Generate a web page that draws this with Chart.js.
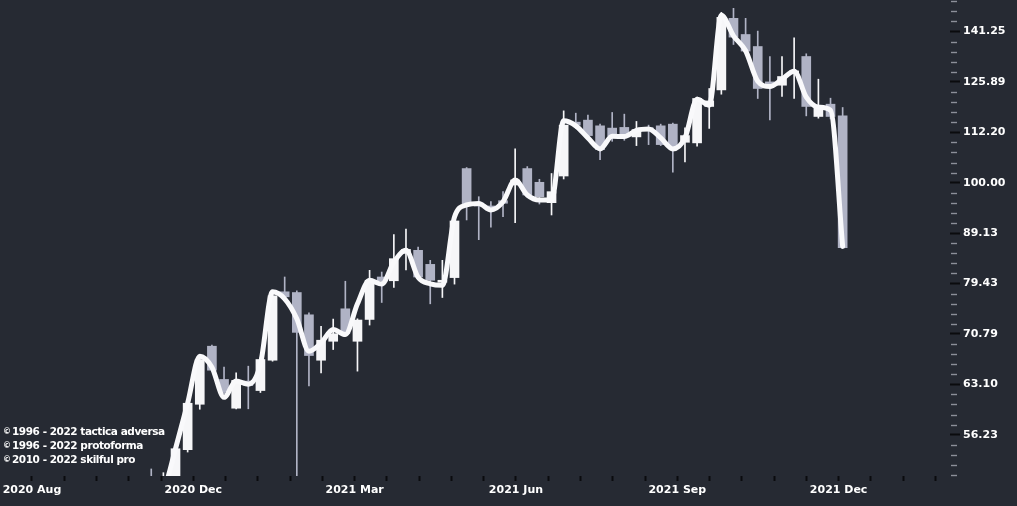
<!DOCTYPE html>
<html>
<head>
<meta charset="utf-8">
<script src="https://cdn.jsdelivr.net/npm/chart.js@4.4.0/dist/chart.umd.min.js"></script>
<style>
  html, body { margin: 0; padding: 0; background: #262a33; }
  #wrap { position: relative; width: 1017px; height: 506px; overflow: hidden; }
  #c { display: block; width: 1017px; height: 506px; }
  #credits { position: absolute; left: 3px; top: 425px; color: #ffffff; font-family: "DejaVu Sans"; font-weight: bold;
             font-size: 10.5px; line-height: 12px; letter-spacing: -0.45px; white-space: nowrap; }
  #credits .c { font-size: 8px; letter-spacing: 0; margin-right: 1px; position: relative; top: -1px; }
</style>
</head>
<body>
<div id="wrap">
  <canvas id="c" width="1017" height="506"></canvas>
  <div id="credits">
    <div><span class="c">©</span>1996 - 2022 tactica adversa</div>
    <div><span class="c">©</span>1996 - 2022 protoforma</div>
    <div><span class="c">©</span>2010 - 2022 skilful pro</div>
  </div>
</div>
<script>
// ---- data (weekly candles) ----
const weekNo = [-2, -1, 0, 1, 2, 3, 4, 5, 6, 7, 8, 9, 10, 11, 12, 13, 14, 15, 16, 17, 18, 19,
  20, 21, 22, 23, 24, 25, 26, 27, 28, 29, 30, 31, 32, 33, 34, 35, 36, 37, 38, 39,
  40, 41, 42, 43, 44, 45, 46, 47, 48, 49, 50, 51, 52, 53, 54, 55];

const openP = [48, 47,
  49.5, 54.34, 60.28, 68.83, 63.80, 59.74, 63.56, 62.20, 66.66, 77.94,
  77.81, 73.95, 66.66, 69.61, 74.97, 69.61, 73.17, 80.62, 79.93, 85.09,
  85.68, 82.98, 79.66, 80.51, 103.28, 95.47, 94.82, 95.97, 99.48, 103.28,
  100.09, 95.54, 101.54, 114.83, 115.36, 113.87, 113.28, 113.46, 111.03, 113.41,
  113.87, 114.31, 109.67, 109.52, 119.02, 123.61, 145.56, 140.29, 136.49, 125.89,
  124.94, 128.42, 133.41, 116.33, 119.64, 116.49];

const highP = [52.0, 51.56,
  54.67, 60.66, 67.12, 68.99, 65.61, 64.76, 65.76, 67.12, 77.58, 80.62,
  78.11, 74.29, 72.01, 73.23, 79.84, 73.28, 81.86, 81.54, 88.83, 89.92,
  86.33, 83.75, 83.75, 92.05, 103.52, 96.85, 95.75, 97.97, 108.03, 103.75,
  100.78, 102.12, 117.83, 117.21, 116.68, 114.31, 117.40, 116.95, 115.02, 114.05,
  114.31, 114.57, 113.33, 121.57, 124.01, 147.56, 148.92, 145.56, 141.38, 133.41,
  133.41, 139.23, 134.24, 126.67, 121.29, 118.74];

const lowP = [46, 46,
  49, 54.05, 59.60, 65.02, 61.77, 59.66, 59.66, 61.92, 66.51, 76.70,
  50, 62.87, 64.76, 68.31, 70.58, 65.02, 72.24, 76.06, 78.71, 81.95,
  80.38, 75.83, 76.93, 79.32, 91.84, 87.80, 90.33, 92.54, 91.27, 96.79,
  95.25, 92.89, 100.85, 113.20, 111.10, 105.42, 109.92, 110.17, 108.84, 109.09,
  108.84, 102.41, 104.87, 108.67, 113.20, 122.40, 137.12, 134.85, 121.21, 115.44,
  121.76, 121.21, 116.49, 115.88, 115.68, 86.10];

const closeP = [47, 48.5,
  54.46, 60.42, 66.77, 65.16, 61.96, 63.66, 62.91, 66.77, 77.23, 77.05,
  71.04, 67.38, 69.78, 70.82, 70.82, 73.07, 80.02, 79.89, 84.07, 85.87,
  80.62, 80.02, 80.02, 91.63, 95.04, 94.82, 94.32, 95.41, 100.62, 97.23,
  96.85, 97.97, 114.05, 114.05, 111.36, 107.85, 111.18, 111.18, 112.89, 112.64,
  109.09, 108.52, 111.36, 121.21, 120.54, 145.89, 139.45, 135.07, 124.01, 124.66,
  127.45, 129.09, 119.02, 119.02, 116.33, 86.21];

// smoothed trend line
const trendP = [47, 49.3,
  54.46, 60.42, 67.28, 65.61, 61.25, 63.56, 63.10, 66.06, 77.94, 76.70,
  73.28, 68.05, 69.35, 71.51, 70.69, 75.83, 80.02, 79.32, 83.42, 85.68,
  80.57, 79.38, 79.10, 92.47, 95.04, 95.36, 93.96, 95.75, 100.62, 97.23,
  96.13, 96.13, 115.17, 113.87, 110.77, 108.03, 111.18, 111.10, 112.71, 113.07,
  110.77, 108.03, 110.77, 121.01, 119.37, 146.56, 139.87, 135.16, 126.09, 124.57,
  126.67, 129.00, 121.57, 118.82, 118.01, 86.46];

const xLabels = ['2020 Aug', '2020 Dec', '2021 Mar', '2021 Jun', '2021 Sep', '2021 Dec'];

// ---- styling / layout ----
const UP = '#f6f6f8';
const DOWN = '#b0b3c5';
const LINE = '#f9f9fb';
const X_MIN = -14.47, X_MAX = 63.85;        // visible week range
const X_TICK0 = 1.467, X_TICK_STEP = 2.66;  // axis tick spacing in weeks
const Y_MIN = 51.17, Y_MAX = 151.79;

const isUp = weekNo.map((_, i) => closeP[i] >= openP[i]);
const colors = isUp.map(u => (u ? UP : DOWN));
const bodies = weekNo.map((w, i) => ({ x: w, y: [openP[i], closeP[i]] }));
const wicks = weekNo.map((w, i) => ({ x: w, y: [lowP[i], highP[i]] }));
const trend = weekNo.map((w, i) => ({ x: w, y: trendP[i] }));

const minorTicks = {
  id: 'minorTicks',
  afterDraw(chart) {
    const ys = chart.scales.y;
    const ctx = chart.ctx;
    ctx.save();
    ctx.strokeStyle = '#8c8f99';
    ctx.lineWidth = 1.4;
    ys.ticks.forEach(t => {
      if (t.major) return;
      const py = Math.round(ys.getPixelForValue(t.value)) + 0.5;
      ctx.beginPath();
      ctx.moveTo(ys.left + 1, py);
      ctx.lineTo(ys.left + 7, py);
      ctx.stroke();
    });
    ctx.restore();
  }
};

Chart.defaults.font.family = '"DejaVu Sans", sans-serif';
Chart.defaults.font.weight = 'bold';
Chart.defaults.font.size = 11;
Chart.defaults.color = '#ffffff';

new Chart(document.getElementById('c'), {
  type: 'bar',
  data: {
    datasets: [
      { type: 'line', data: trend, borderColor: LINE, borderWidth: 5, pointRadius: 0,
        cubicInterpolationMode: 'monotone', order: 0, clip: 0, borderCapStyle: 'round', borderJoinStyle: 'round' },
      { type: 'bar', data: bodies, backgroundColor: colors, barThickness: 9, grouped: false,
        order: 1, clip: 0, borderWidth: 0 },
      { type: 'bar', data: wicks, backgroundColor: colors, barThickness: 1, grouped: false,
        order: 2, clip: 0, borderWidth: 0 }
    ]
  },
  options: {
    responsive: false,
    animation: false,
    devicePixelRatio: 1,
    layout: { padding: 0 },
    plugins: { legend: { display: false }, tooltip: { enabled: false } },
    scales: {
      x: {
        type: 'linear',
        min: X_MIN, max: X_MAX,
        offset: false,
        grid: { display: true, offset: false, drawOnChartArea: false, drawTicks: true,
                tickLength: 5, tickWidth: 2, tickColor: '#0a0b0e' },
        border: { display: false },
        afterBuildTicks(scale) {
          const t = [];
          for (let k = -5; k <= 23; k++) t.push({ value: X_TICK0 + k * X_TICK_STEP });
          scale.ticks = t;
        },
        afterFit(scale) { scale.height = 30; scale.paddingLeft = 0; scale.paddingRight = 0; },
        ticks: {
          autoSkip: false, maxRotation: 0, padding: 3, color: '#ffffff',
          callback: (v, i) => (i % 5 === 0 ? (xLabels[i / 5] || '') : '')
        }
      },
      y: {
        type: 'logarithmic',
        position: 'right',
        min: Y_MIN, max: Y_MAX,
        grid: { display: true, drawOnChartArea: false, drawTicks: true, tickLength: 10, tickWidth: 2,
                tickColor: c => (c.tick && c.tick.major ? '#0a0b0e' : 'rgba(0,0,0,0)') },
        border: { display: false },
        afterBuildTicks(scale) {
          const t = [];
          for (let j = 171; j <= 218; j++) {
            t.push({ value: Math.pow(10, j / 100), major: j % 5 === 0 });
          }
          scale.ticks = t;
        },
        afterFit(scale) { scale.width = 67; scale.paddingTop = 0; scale.paddingBottom = 0; },
        ticks: {
          autoSkip: false, padding: 3, color: '#ffffff',
          callback: (v, i, ticks) => (ticks[i] && ticks[i].major ? Number(v).toFixed(2) : '')
        }
      }
    }
  },
  plugins: [minorTicks]
});
</script>
</body>
</html>
